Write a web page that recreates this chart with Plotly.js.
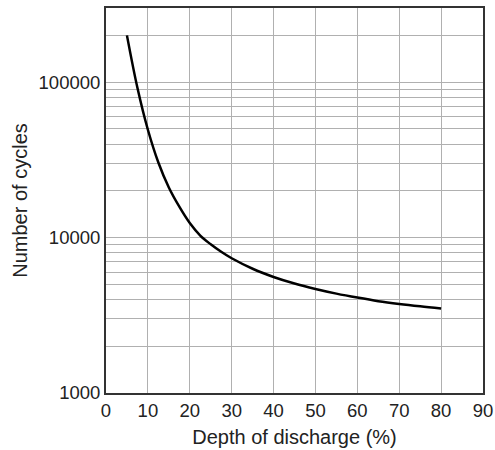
<!DOCTYPE html>
<html>
<head>
<meta charset="utf-8">
<script src="https://cdn.plot.ly/plotly-3.0.1.min.js"></script>
<style>html,body{margin:0;padding:0;background:#fff;}#chart{width:495px;height:450px;}</style>
</head>
<body>
<div id="chart"></div>
<script>
// Depth of discharge (%)
const depthOfDischarge = [5, 7.5, 10, 12.5, 15, 17.5, 20, 22.5, 25, 27.5, 30, 35, 40, 45, 50, 55, 60, 65, 70, 75, 80];
// Number of cycles
const numberOfCycles = [200000, 92000, 49400, 30400, 21000, 15800, 12400, 10300, 9050, 8100, 7360, 6300, 5580, 5060, 4670, 4360, 4110, 3900, 3740, 3610, 3500];
const xTickVals = [0, 10, 20, 30, 40, 50, 60, 70, 80, 90];
const yTickVals = [1000, 10000, 100000];
const yTickText = ["1000", "10000", "100000"];

const font = "Liberation Sans, Arial, Helvetica, sans-serif";

Plotly.newPlot("chart", [{
  x: depthOfDischarge,
  y: numberOfCycles,
  type: "scatter",
  mode: "lines",
  line: {color: "#000", width: 2.5, shape: "spline", smoothing: 1},
  hoverinfo: "skip"
}], {
  width: 495,
  height: 450,
  margin: {l: 106, r: 12, t: 8, b: 57},
  paper_bgcolor: "#fff",
  plot_bgcolor: "#fff",
  showlegend: false,
  font: {family: font, size: 18.5, color: "#222"},
  xaxis: {
    range: [0, 90],
    tickvals: xTickVals,
    ticktext: xTickVals.map(String),
    showgrid: true,
    gridcolor: "#b0b0b0",
    gridwidth: 1,
    zeroline: false,
    showline: true,
    linecolor: "#333",
    linewidth: 2,
    mirror: true,
    ticks: "",
    tickfont: {family: font, size: 18.5, color: "#222"},
    title: {text: "Depth of discharge (%)", font: {family: font, size: 20, color: "#222"}, standoff: 10}
  },
  yaxis: {
    type: "log",
    range: [3, Math.log10(300000)],
    tickvals: yTickVals,
    ticktext: yTickText,
    showgrid: true,
    gridcolor: "#b0b0b0",
    gridwidth: 1,
    zeroline: false,
    showline: true,
    linecolor: "#333",
    linewidth: 2,
    mirror: true,
    ticks: "",
    minor: {dtick: "D1", showgrid: true, gridcolor: "#b0b0b0", gridwidth: 1, ticks: ""},
    tickfont: {family: font, size: 18.5, color: "#222"},
    title: {text: "Number of cycles", font: {family: font, size: 20, color: "#222"}, standoff: 6}
  }
}, {displayModeBar: false, staticPlot: true});
</script>
</body>
</html>
